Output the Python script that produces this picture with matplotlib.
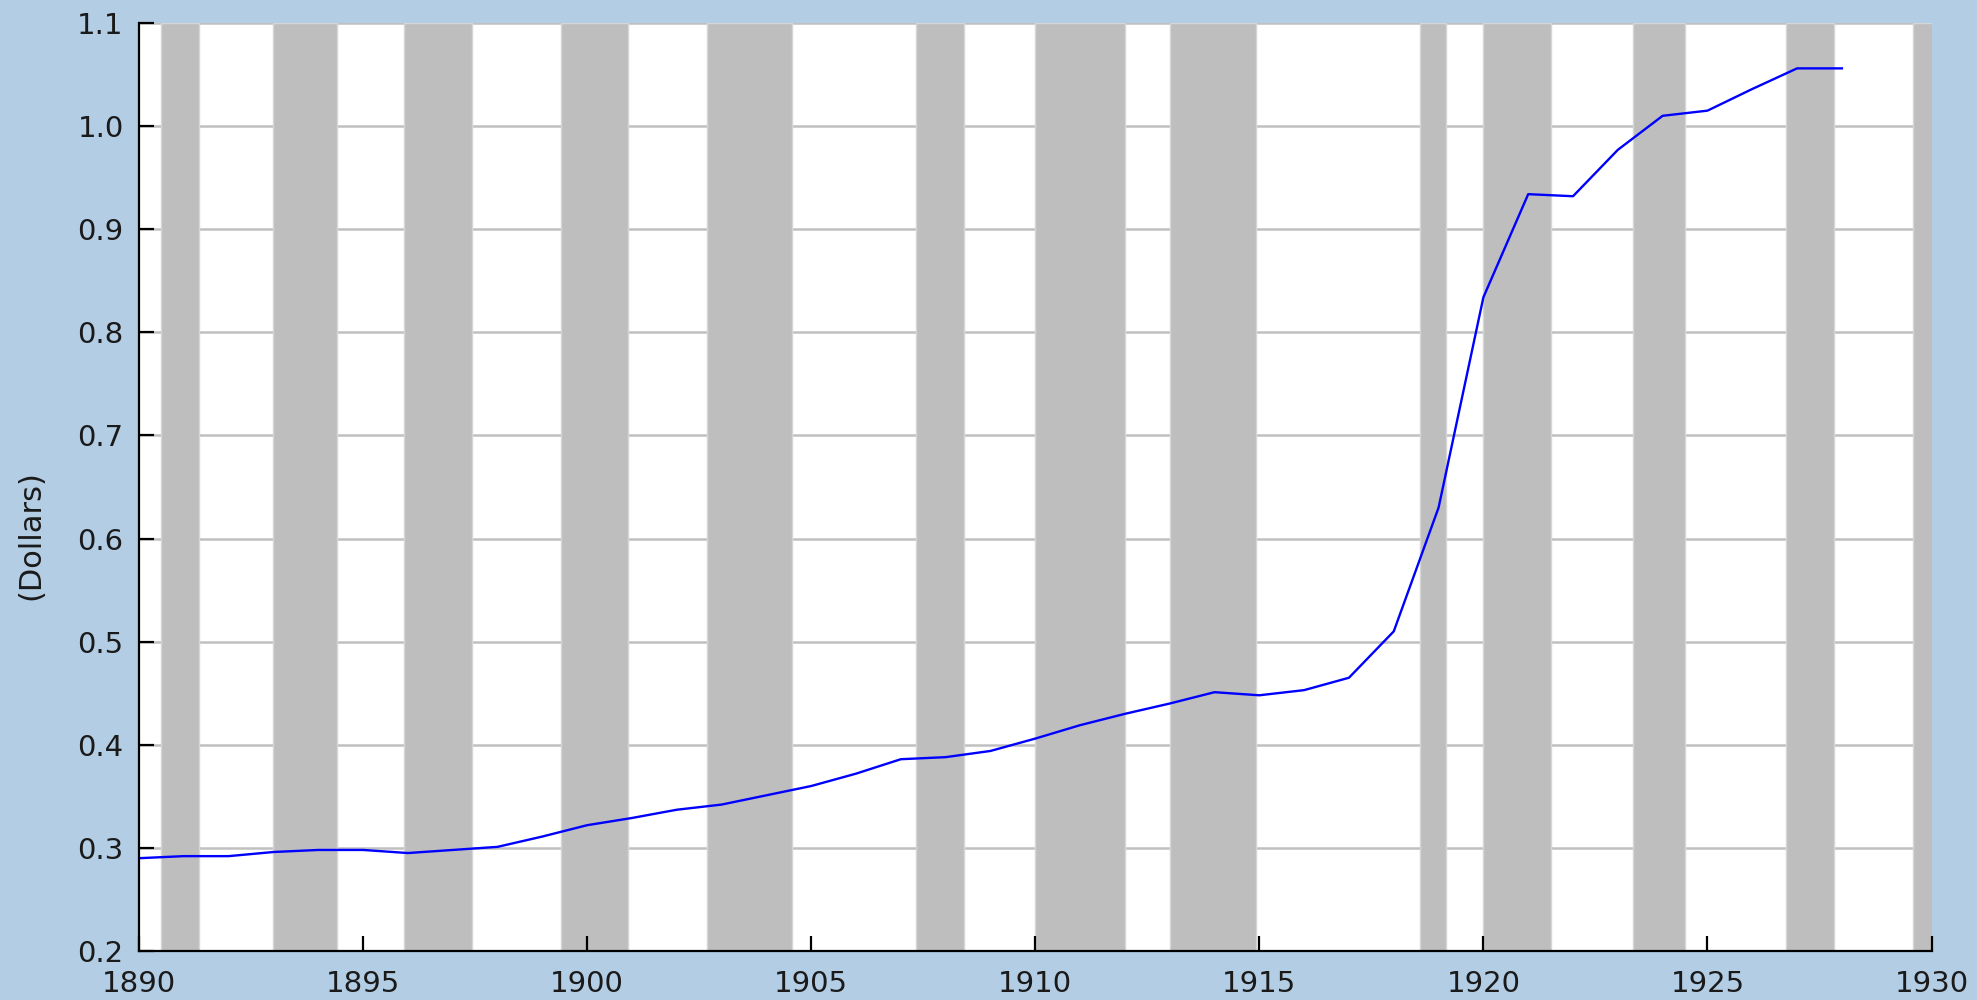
import numpy as np
import matplotlib.pyplot as plt

# ----------
# > Data <
# ----------
years = list(range(1890, 1929))
dollars = [
    0.290, 0.292, 0.292, 0.296, 0.298, 0.298, 0.295, 0.298, 0.301, 0.311,
    0.322, 0.329, 0.337, 0.342, 0.351, 0.360, 0.372, 0.386, 0.388, 0.394,
    0.406, 0.419, 0.430, 0.440, 0.451, 0.448, 0.453, 0.465, 0.510, 0.630,
    0.834, 0.934, 0.932, 0.977, 1.010, 1.015, 1.036, 1.056, 1.056,
]

# recession periods (decimal years, month start)
rec_start = [1890.50, 1893.00, 1895.92, 1899.42, 1902.67, 1907.33, 1910.00,
             1913.00, 1918.58, 1920.00, 1923.33, 1926.75, 1929.58]
rec_end = [1891.33, 1894.42, 1897.42, 1900.92, 1904.58, 1908.42, 1912.00,
           1914.92, 1919.17, 1921.50, 1924.50, 1927.83, 1933.17]

x_ticks = list(range(1890, 1931, 5))
y_ticks = [0.2, 0.3, 0.4, 0.5, 0.6, 0.7, 0.8, 0.9, 1.0, 1.1]

# ------------
# > Styling <
# ------------
bg_color = "#b3cde4"
band_color = "#bebebe"
grid_color = "#c0c0c0"
line_color = "#0000ff"
text_color = "#1a1a1a"

plt.rcParams["font.family"] = ["DejaVu Sans"]

fig = plt.figure(figsize=(19.77, 10), dpi=100, facecolor=bg_color)
ax = fig.add_axes([0.0703, 0.049, 0.9067, 0.928])
ax.set_facecolor("white")

for s, e in zip(rec_start, rec_end):
    ax.axvspan(s, e, facecolor=band_color, edgecolor="#d6d6d6", lw=1.0, zorder=1)

for yv in y_ticks[1:]:
    ax.axhline(yv, color=grid_color, lw=1.8, zorder=0.5)

ax.plot(years, dollars, color=line_color, lw=1.7, zorder=3)

ax.set_xlim(1890, 1930)
ax.set_ylim(0.2, 1.1)
ax.set_xticks(x_ticks)
ax.set_yticks(y_ticks)
ax.set_yticklabels([f"{v:.1f}" for v in y_ticks])

for side in ["top", "right"]:
    ax.spines[side].set_visible(False)
for side in ["left", "bottom"]:
    ax.spines[side].set_linewidth(1.6)
    ax.spines[side].set_color("black")
    ax.spines[side].set_zorder(4)

ax.tick_params(axis="both", direction="in", length=11, width=1.6,
               labelsize=21, labelcolor=text_color, color="black")
ax.tick_params(axis="y", pad=11)
ax.tick_params(axis="x", pad=14)

fig.text(0.0157, 0.465, "(Dollars)", rotation=90, ha="center", va="center",
         fontsize=22, color=text_color)

fig.savefig("out.png", dpi=100, facecolor=bg_color)
plt.close(fig)
